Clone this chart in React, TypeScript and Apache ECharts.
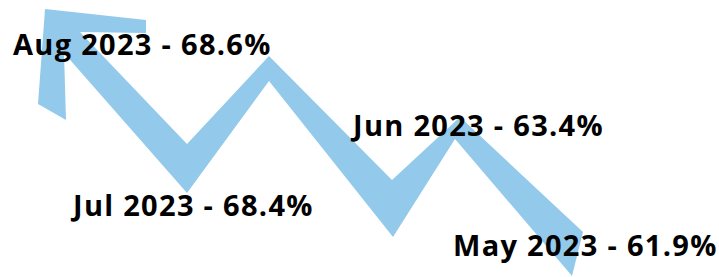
import React, { useEffect, useRef } from "react";
import * as echarts from "echarts";

// Data (labels)
const months = ["Aug 2023", "Jul 2023", "Jun 2023", "May 2023"];
const values = [68.6, 68.4, 63.4, 61.9];

// Label anchor positions (layout, in canvas px)
const labelX = [13, 73, 353, 453];
const labelY = [43, 204, 124, 244];

// Decorative zig-zag arrow outline (layout, in canvas px)
const arrowX = [45, 146, 146, 80, 187, 269, 392, 460, 583, 572, 455, 393, 269, 187, 64, 66, 38];
const arrowY = [9, 20, 33, 32, 144, 56, 180, 117, 232, 276, 139, 237, 81, 193, 53, 120, 104];

const W = 719;
const H = 277;

export default function App() {
  const ref = useRef<HTMLDivElement>(null);
  useEffect(() => {
    document.body.style.margin = "0";
    const chart = echarts.init(ref.current!, null, { renderer: "svg" });
    const arrowData = arrowX.map((x, i) => [x, arrowY[i]]);
    const labelData = months.map((m, i) => [labelX[i], labelY[i], i]);
    const applySpacing = () => {
      ref.current?.querySelectorAll("text").forEach((t) => {
        t.setAttribute("letter-spacing", "1.3");
      });
    };
    chart.on("finished", applySpacing);
    chart.setOption({
      animation: false,
      backgroundColor: "#ffffff",
      grid: { left: 0, right: 0, top: 0, bottom: 0 },
      xAxis: { type: "value", min: 0, max: W, show: false },
      yAxis: { type: "value", min: 0, max: H, inverse: true, show: false },
      series: [
        {
          type: "custom",
          coordinateSystem: "cartesian2d",
          data: [0],
          z: 1,
          renderItem: (params: any, api: any) => {
            const pts = arrowData.map((p) => api.coord(p));
            return {
              type: "polygon",
              shape: { points: pts },
              style: { fill: "#93CAEB", stroke: null },
            };
          },
        },
        {
          type: "custom",
          coordinateSystem: "cartesian2d",
          data: labelData,
          z: 2,
          renderItem: (params: any, api: any) => {
            const i = params.dataIndex;
            const p = api.coord([labelX[i], labelY[i]]);
            return {
              type: "text",
              x: p[0],
              y: p[1],
              style: {
                text: `${months[i]} - ${values[i].toFixed(1)}%`,
                font: "bold 29px 'Open Sans'",
                fill: "#000000",
                textAlign: "left",
                textVerticalAlign: "middle",
              },
            };
          },
        },
      ],
    });
    applySpacing();
    return () => chart.dispose();
  }, []);
  return <div ref={ref} style={{ width: W, height: H }} />;
}
